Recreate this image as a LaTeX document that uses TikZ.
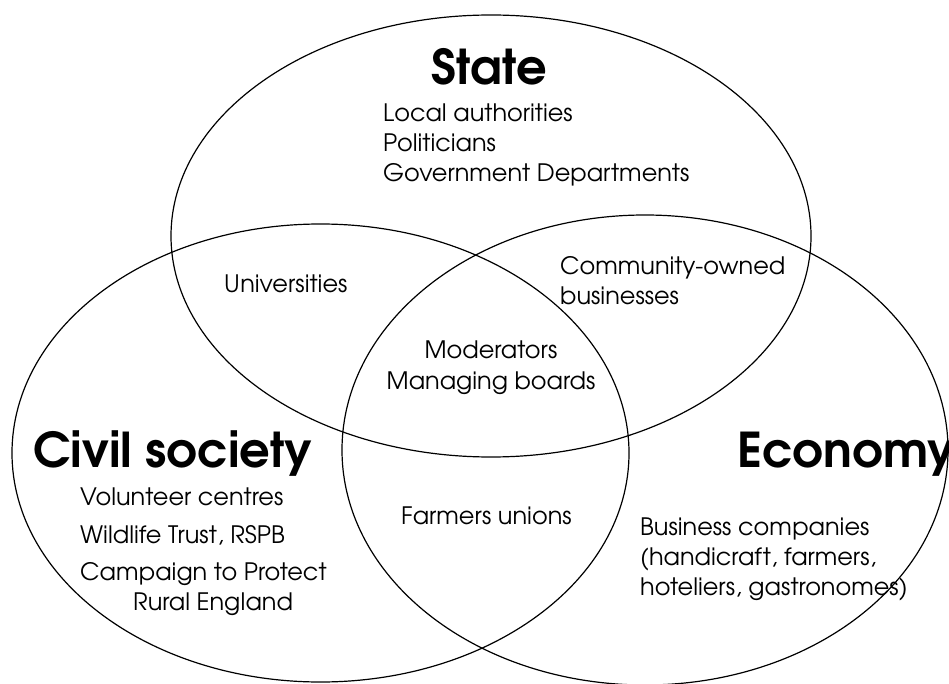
\documentclass[tikz,border=0pt]{standalone}
\usepackage{fontspec}
\setmainfont{TeX Gyre Adventor}
\usetikzlibrary{shapes.geometric}
\tikzset{
  circ/.style={draw=black, line width=1.2pt, ellipse, inner sep=0pt},
  txt/.style={anchor=base west, inner sep=0pt, font=\fontsize{24}{28}\selectfont},
  ctxt/.style={anchor=base, inner sep=0pt, font=\fontsize{24}{28}\selectfont},
  head/.style={anchor=base west, inner sep=0pt, font=\fontsize{48}{52}\selectfont\bfseries},
}
\begin{document}
\begin{tikzpicture}[x=1pt,y=-1pt]
\useasboundingbox (0,0) rectangle (949,684);
\node[circ, minimum width=640pt, minimum height=442pt] (state) at (491,236) {};
\node[circ, minimum width=617pt, minimum height=458pt] (civil) at (320.5,453) {};
\node[circ, minimum width=606pt, minimum height=470pt] (econ) at (645,450) {};

\node[anchor=base, inner sep=0pt, font=\fontsize{48}{52}\selectfont\bfseries] (statet) at (489,85) {State};
\node[txt] (s1) at (383,122) {Local authorities};
\node[txt] (s2) at (383,152) {Politicians};
\node[txt] (s3) at (383,182) {Government Departments};

\node[txt] (uni) at (224,292) {Universities};
\node[txt] (co1) at (560,275) {Community-owned};
\node[txt] (co2) at (560,305) {businesses};
\node[ctxt] (m1) at (491,358) {Moderators};
\node[ctxt] (m2) at (491,389) {Managing boards};

\node[head] (civilt) at (33,467) {Civil society};
\node[txt] (c1) at (80,505) {Volunteer centres};
\node[txt] (c2) at (80,543) {Wildlife Trust, RSPB};
\node[txt] (c3) at (80,580) {Campaign to Protect};
\node[txt] (c4) at (133,610) {Rural England};

\node[txt] (fu) at (401,524) {Farmers unions};

\node[head] (econt) at (737,467) {Economy};
\node[txt] (e1) at (640,535) {Business companies};
\node[txt] (e2) at (640,565) {(handicraft, farmers,};
\node[txt] (e3) at (640,595) {hoteliers, gastronomes)};
\end{tikzpicture}
\end{document}
